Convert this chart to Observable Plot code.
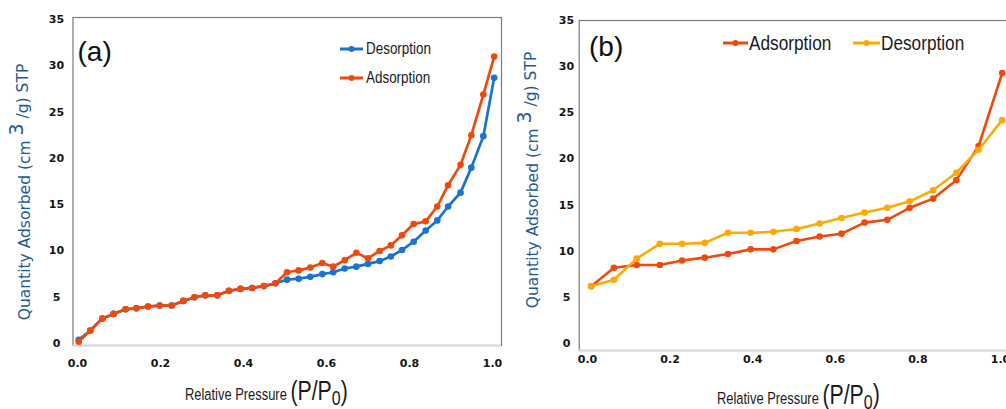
<!DOCTYPE html>
<html><head><meta charset="utf-8">
<script src="https://cdn.jsdelivr.net/npm/d3@7"></script>
<script src="https://cdn.jsdelivr.net/npm/@observablehq/plot@0.6"></script>
<style>
html,body{margin:0;padding:0;background:#fff;overflow:hidden}
#wrap{position:relative;width:1006px;height:409px;overflow:hidden;background:#fff}
#wrap svg{position:absolute;top:0}
</style></head><body><div id="wrap"></div>
<script>
// Panel (a)
const pressureA = [0.003,0.031,0.060,0.087,0.116,0.142,0.170,0.198,0.227,0.255,0.282,0.308,0.337,0.365,0.393,0.421,0.449,0.477,0.505,0.533,0.561,0.590,0.616,0.644,0.672,0.700,0.728,0.755,0.782,0.810,0.839,0.867,0.893,0.923,0.949,0.978,1.004];
const adsorptionA = [0.2,1.4,2.7,3.2,3.7,3.8,4.0,4.1,4.1,4.6,5.0,5.2,5.2,5.7,5.9,6.0,6.2,6.5,7.7,7.9,8.2,8.7,8.3,9.0,9.8,9.2,10.0,10.6,11.7,12.9,13.2,14.8,17.1,19.3,22.5,26.9,31.0];
const desorptionA = [0.4,1.4,2.7,3.2,3.7,3.8,4.0,4.1,4.1,4.6,5.0,5.2,5.2,5.7,5.9,6.0,6.2,6.5,6.9,7.0,7.2,7.5,7.7,8.1,8.3,8.6,8.9,9.4,10.1,11.0,12.2,13.3,14.8,16.3,19.0,22.4,28.7];
// Panel (b)
const pressureB = [0.009,0.064,0.119,0.175,0.229,0.284,0.340,0.395,0.450,0.506,0.562,0.615,0.671,0.726,0.780,0.837,0.893,0.947,1.004];
const adsorptionB = [6.2,8.2,8.5,8.5,9.0,9.3,9.7,10.2,10.2,11.1,11.6,11.9,13.1,13.4,14.7,15.7,17.7,21.4,29.3];
const desorptionB = [6.2,6.9,9.2,10.8,10.8,10.9,12.0,12.0,12.1,12.4,13.0,13.6,14.2,14.7,15.4,16.6,18.5,21.0,24.2];

const xTicks = [0, 0.2, 0.4, 0.6, 0.8, 1.0];
const yTicks = [0, 5, 10, 15, 20, 25, 30, 35];
const seriesA = ["Desorption", "Adsorption"];
const seriesB = ["Adsorption", "Desorption"];

const BLUE = "#1a72d2", RED = "#f2480c", GOLD = "#fdaa05";
const SANS = "'Liberation Sans',Arial,sans-serif";
const TICKFONT = "'DejaVu Sans',Verdana,sans-serif";
const SQUEEZE = 0.84;

function rows(px, vals) { return px.map((p, i) => ({p, v: vals[i]})); }

function panel(o) {
  const marks = [
    Plot.frame({stroke: "#7a7a7a", strokeWidth: 1.2}),
    Plot.ruleY([o.yDomain[0]], {stroke: "#d9d9d9", strokeWidth: 2.2}),
    Plot.axisX({ticks: xTicks, tickSize: 0, tickPadding: o.xPad, tickFormat: d3.format(".1f"), label: null, fontWeight: "bold", fill: "#151515"}),
    Plot.axisY({ticks: yTicks, tickSize: 0, tickPadding: o.yPad, textAnchor: "middle", label: null, fontWeight: "bold", fill: "#151515"})
  ];
  for (const s of o.series) {
    marks.push(Plot.line(s.data, {x: "p", y: "v", stroke: s.color, strokeWidth: s.sw}));
    marks.push(Plot.dot(s.data, {x: "p", y: "v", r: s.r, fill: s.color}));
  }
  const svg = Plot.plot({
    width: o.width, height: 409,
    marginLeft: o.mL, marginRight: o.mR, marginTop: o.mT, marginBottom: o.mB,
    x: {domain: o.xDomain, label: null},
    y: {domain: o.yDomain, label: null},
    style: {fontFamily: TICKFONT, fontSize: "11px", background: "transparent", overflow: "visible"},
    marks
  });
  svg.style.left = o.left + "px";
  return svg;
}

const wrap = document.getElementById("wrap");

const svgA = panel({
  left: 0, width: 505, mL: 72.5, mR: 4, mT: 17, mB: 64,
  xDomain: [-0.0108, 1.0217], yDomain: [-0.216, 35.22],
  xPad: 13.5, yPad: 16.5,
  series: [
    {data: rows(pressureA, desorptionA), color: BLUE, sw: 2.7, r: 3.3},
    {data: rows(pressureA, adsorptionA), color: RED, sw: 2.7, r: 3.3}
  ]
});
const svgB = panel({
  left: 500, width: 530, mL: 78.7, mR: 10, mT: 20, mB: 59,
  xDomain: [-0.0201, 1.0484], yDomain: [-0.76, 35.0],
  xPad: 4.5, yPad: 12.7,
  series: [
    {data: rows(pressureB, adsorptionB), color: RED, sw: 2.6, r: 3.3},
    {data: rows(pressureB, desorptionB), color: GOLD, sw: 2.6, r: 3.3}
  ]
});
wrap.appendChild(svgA);
wrap.appendChild(svgB);

// overlay for titles, panel labels and legends
const ov = d3.select(wrap).append("svg")
  .attr("width", 1006).attr("height", 409)
  .style("position", "absolute").style("left", "0px").style("top", "0px")
  .style("pointer-events", "none");

function yTitle(cx, cy) {
  const t = ov.append("text")
    .attr("transform", `translate(${cx},${cy}) rotate(-90)`)
    .attr("text-anchor", "middle").attr("dominant-baseline", "central")
    .attr("font-family", TICKFONT).attr("font-size", 15.5).attr("fill", "#1f5a96");
  t.append("tspan").text("Quantity Adsorbed (cm ");
  t.append("tspan").attr("font-size", 19).attr("dy", "-0.45em").text("3");
  t.append("tspan").attr("dy", "0.45em").text(" /g) STP");
}
yTitle(24.5, 192);
yTitle(533, 180);

function squeezed(x, y, k) {
  return ov.append("g").attr("transform", `translate(${x},${y}) scale(${k},1)`);
}

function xTitle(x, y) {
  const t = squeezed(x, y, 0.76).append("text")
    .attr("font-family", SANS).attr("font-size", 17).attr("fill", "#1b1b1b");
  t.append("tspan").text("Relative Pressure ");
  t.append("tspan").attr("font-size", 28).text("(P/P");
  t.append("tspan").attr("font-size", 21).attr("dy", "0.25em").text("0");
  t.append("tspan").attr("font-size", 28).attr("dy", "-0.2em").text(")");
}
xTitle(185, 400);
xTitle(717, 403.5);

ov.append("text").attr("x", 77.5).attr("y", 61).attr("font-family", SANS)
  .attr("font-size", 28).attr("fill", "#111").text("(a)");
ov.append("text").attr("x", 589).attr("y", 56).attr("font-family", SANS)
  .attr("font-size", 28).attr("fill", "#111").text("(b)");

function legendItem(x0, x1, y, color, label, fs, tx) {
  ov.append("line").attr("x1", x0).attr("x2", x1).attr("y1", y).attr("y2", y)
    .attr("stroke", color).attr("stroke-width", 3);
  ov.append("circle").attr("cx", (x0 + x1) / 2).attr("cy", y).attr("r", 3).attr("fill", color);
  squeezed(tx, y, SQUEEZE).append("text").attr("dominant-baseline", "central")
    .attr("font-family", SANS).attr("font-size", fs).attr("fill", "#1b1b1b").text(label);
}
legendItem(340, 363, 49, BLUE, seriesA[0], 16, 366);
legendItem(340, 363, 78, RED, seriesA[1], 16, 366);
legendItem(723, 748, 43, RED, seriesB[0], 20.5, 749);
legendItem(853, 880, 43, GOLD, seriesB[1], 20.5, 881);
</script>
</body></html>
